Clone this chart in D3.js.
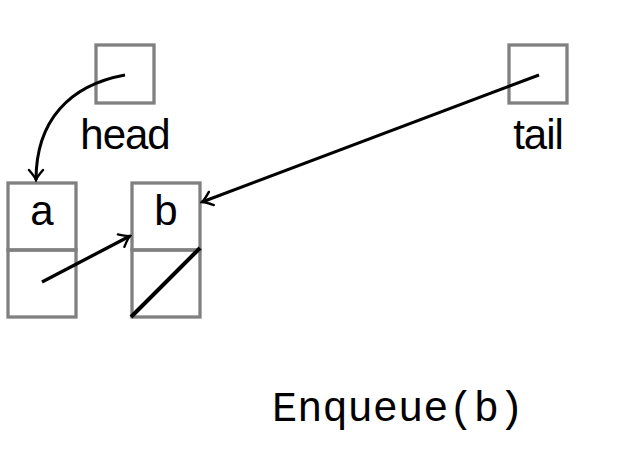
<!DOCTYPE html>
<html>
<head>
<meta charset="utf-8">
<script src="https://cdn.jsdelivr.net/npm/d3@7"></script>
<style>
  body { margin: 0; background: #fff; }
  svg { display: block; }
</style>
</head>
<body>
<svg id="chart"></svg>
<script>
// queue contents and pointers
var nodes = ['a', 'b'];
var pointers = ['head', 'tail'];
var pointerTargets = ['a', 'b'];
var operation = 'Enqueue(b)';

var width = 637;
var height = 453;

var svg = d3.select('#chart')
    .attr('width', width)
    .attr('height', height);

// layout scales (slot index -> pixel)
var nodeX = d3.scaleLinear().domain([0, 1]).range([8, 132]);
var ptrX = d3.scaleLinear().domain([0, 1]).range([96, 509]);
var cell = 68, half = 67, ptrBox = 58;
var nodeTop = 183, ptrTop = 45;

var grey = '#808080';

var defs = svg.append('defs');
defs.append('marker')
    .attr('id', 'tip')
    .attr('viewBox', '-13 -9 15 18')
    .attr('refX', 0).attr('refY', 0)
    .attr('markerWidth', 15).attr('markerHeight', 18)
    .attr('markerUnits', 'userSpaceOnUse')
    .attr('orient', 'auto')
    .append('path')
    .attr('d', 'M-10,-7 Q-3,-1 0,0 Q-3,1 -10,7')
    .attr('fill', 'none')
    .attr('stroke', '#000')
    .attr('stroke-width', 2.4)
    .attr('stroke-linecap', 'round');

// nodes
var g = svg.selectAll('g.node')
    .data(nodes)
    .enter().append('g')
    .attr('class', 'node')
    .attr('transform', function(d, i) { return 'translate(' + nodeX(i) + ',' + nodeTop + ')'; });

g.append('rect')
    .attr('width', cell).attr('height', half)
    .attr('fill', 'none').attr('stroke', grey).attr('stroke-width', 3.3);
g.append('rect')
    .attr('y', half).attr('width', cell).attr('height', half)
    .attr('fill', 'none').attr('stroke', grey).attr('stroke-width', 3.3);
g.append('text')
    .attr('x', cell / 2).attr('y', 42)
    .attr('text-anchor', 'middle')
    .attr('font-family', 'Liberation Sans, Arial, sans-serif')
    .attr('font-size', 42)
    .text(function(d) { return d; });

// next links: arrow to next node, slash for null
nodes.forEach(function(d, i) {
  var x0 = nodeX(i);
  if (i < nodes.length - 1) {
    svg.append('line')
        .attr('x1', x0 + 34).attr('y1', nodeTop + 99)
        .attr('x2', nodeX(i + 1) - 2).attr('y2', nodeTop + 53)
        .attr('stroke', '#000').attr('stroke-width', 3.3)
        .attr('marker-end', 'url(#tip)');
  } else {
    svg.append('line')
        .attr('x1', x0 - 1).attr('y1', nodeTop + 134)
        .attr('x2', x0 + cell).attr('y2', nodeTop + 65)
        .attr('stroke', '#000').attr('stroke-width', 4);
  }
});

// pointer boxes
var p = svg.selectAll('g.ptr')
    .data(pointers)
    .enter().append('g')
    .attr('class', 'ptr')
    .attr('transform', function(d, i) { return 'translate(' + ptrX(i) + ',' + ptrTop + ')'; });

p.append('rect')
    .attr('width', ptrBox).attr('height', ptrBox)
    .attr('fill', 'none').attr('stroke', grey).attr('stroke-width', 3.3);
p.append('text')
    .attr('x', ptrBox / 2).attr('y', 104)
    .attr('text-anchor', 'middle')
    .attr('font-family', 'Liberation Sans, Arial, sans-serif')
    .attr('font-size', 42)
    .attr('letter-spacing', -1)
    .text(function(d) { return d; });

// pointer arrows
pointers.forEach(function(d, i) {
  var ti = nodes.indexOf(pointerTargets[i]);
  var sx = ptrX(i) + (i === 0 ? 29 : 30), sy = ptrTop + 30;
  var path;
  if (i === 0) {
    var tx = nodeX(ti) + 28, ty = nodeTop - 3;
    path = 'M' + sx + ',' + sy + ' C' + (sx - 55) + ',' + (sy + 10) + ' ' + tx + ',' + (sy + 45) + ' ' + tx + ',' + ty;
  } else {
    var tx2 = nodeX(ti) + cell + 2, ty2 = nodeTop + 19;
    path = 'M' + sx + ',' + sy + ' L' + tx2 + ',' + ty2;
  }
  svg.append('path')
      .attr('d', path)
      .attr('fill', 'none')
      .attr('stroke', '#000').attr('stroke-width', 3)
      .attr('marker-end', 'url(#tip)');
});

// operation label
svg.append('text')
    .attr('x', 272).attr('y', 421)
    .attr('font-family', 'Liberation Mono, Courier New, monospace')
    .attr('font-size', 42)
    .text(operation);
</script>
</body>
</html>
